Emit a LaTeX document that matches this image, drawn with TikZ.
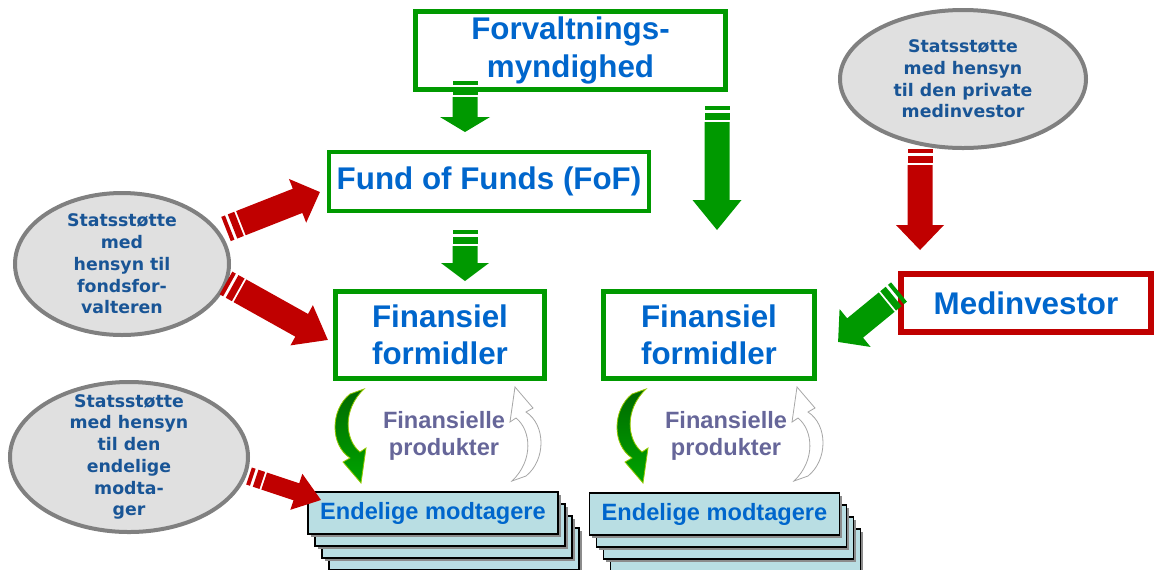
\documentclass[tikz,border=0pt]{standalone}
\usepackage{fontspec}
\setmainfont{Liberation Sans}
\newfontfamily\ellfont{DejaVu Sans}
\usetikzlibrary{shapes.geometric}
\usetikzlibrary{shadows}
\usetikzlibrary{calc}

\definecolor{boxgreen}{RGB}{0,153,0}
\definecolor{boxred}{RGB}{192,0,0}
\definecolor{boxblue}{RGB}{0,102,204}
\definecolor{elltext}{RGB}{25,85,150}
\definecolor{ellfill}{RGB}{224,224,224}
\definecolor{ellgray}{RGB}{128,128,128}
\definecolor{prodtext}{RGB}{102,102,153}
\definecolor{endfill}{RGB}{185,222,227}
\definecolor{curldark}{RGB}{0,105,0}
\definecolor{curllight}{RGB}{0,165,0}
\definecolor{curledge}{RGB}{150,200,0}

% #1 colour, #2 from, #3 to, #4 body width, #5 head width, #6 head length (px)
\newcommand{\stripedarrow}[6]{%
  \path (#2); \pgfgetlastxy{\sax}{\say}
  \path (#3); \pgfgetlastxy{\sbx}{\sby}
  \pgfmathsetmacro\sang{atan2((\sby)-(\say),(\sbx)-(\sax))}
  \pgfmathsetmacro\slen{veclen((\sbx)-(\sax),(\sby)-(\say))}
  \pgfmathsetmacro\sbw{#4*0.375}
  \pgfmathsetmacro\shw{#5*0.375}
  \pgfmathsetmacro\shl{\slen-#6*0.75}
  \begin{scope}[shift={(#2)},rotate=\sang]
    \fill[#1] (0pt,-\sbw pt) rectangle (3pt,\sbw pt);
    \fill[#1] (5.25pt,-\sbw pt) rectangle (10.5pt,\sbw pt);
    \fill[#1] (12pt,-\sbw pt) -- (\shl pt,-\sbw pt) -- (\shl pt,-\shw pt) -- (\slen pt,0pt)
      -- (\shl pt,\shw pt) -- (\shl pt,\sbw pt) -- (12pt,\sbw pt) -- cycle;
  \end{scope}
}

\newcommand{\curl}[1]{%
  \path[#1] (364,389) -- (350,394) .. controls (330,410) and (330,445) .. (350,458)
    -- (343,462) -- (361,483) -- (366,448) -- (360,452)
    .. controls (345,440) and (342,410) .. (364,389) -- cycle;
}

\begin{document}
\begin{tikzpicture}
  [x=0.75pt,y=-0.75pt,
  box/.style={draw=boxgreen,line width=3.5pt,fill=white,text=boxblue,align=center,inner sep=0pt,
    font=\bfseries\fontsize{23.5}{28}\selectfont},
  ell/.style={ellipse,draw=ellgray,line width=3pt,fill=ellfill,inner sep=0pt},
  elltxt/.style={text=elltext,align=center,inner sep=0pt,font=\ellfont\bfseries\fontsize{13}{16.3}\selectfont},
  endbox/.style={draw=black,line width=1pt,fill=endfill,minimum width=187.5pt,minimum height=31.5pt,
    drop shadow={shadow xshift=2pt,shadow yshift=-2pt,fill=black!45,opacity=1}},
  endtxt/.style={text=boxblue,font=\bfseries\fontsize{17.7}{20}\selectfont},
  prod/.style={text=prodtext,align=center,font=\bfseries\fontsize{17.7}{20.5}\selectfont},
  greencurl/.style={top color=curldark,bottom color=curllight,draw=curledge,line width=0.6pt},
  whitecurl/.style={fill=white,draw=gray!70,line width=0.6pt}]
  \useasboundingbox (0,0) rectangle (1155,569);

  \node[ell,minimum width=184.5pt,minimum height=103.5pt,
    label={[elltxt]center:{Statsstøtte\\med hensyn\\til den private\\medinvestor}}] (ell1) at (963,79) {};
  \node[ell,minimum width=160.5pt,minimum height=106.5pt,
    label={[elltxt]center:{Statsstøtte\\med\\hensyn til\\fondsfor-\\valteren}}] (ell2) at (122,264) {};
  \node[ell,minimum width=178.5pt,minimum height=112.5pt,
    label={[elltxt]center:{Statsstøtte\\med hensyn\\til den\\endelige\\modta-\\ger}}] (ell3) at (129,457) {};

  \node[box,minimum width=232.5pt,minimum height=58.5pt] (forv) at (570.5,50.5) {Forvaltnings-\\myndighed};
  \node[box,minimum width=240pt,minimum height=44.25pt] (fof) at (489,181.5) {Fund of Funds (FoF)};
  \node[box,minimum width=156.75pt,minimum height=65.25pt] (fin1) at (440,335) {Finansiel\\formidler};
  \node[box,minimum width=158.25pt,minimum height=65.25pt] (fin2) at (709,335) {Finansiel\\formidler};
  \node[box,draw=boxred,line width=4.5pt,minimum width=187.5pt,minimum height=43.5pt] (med) at (1026,303) {Medinvestor};

  \foreach \k in {3,2,1} {
    \node[endbox] (end1\k) at (433+7*\k,513+12*\k) {};
    \node[endbox] (end2\k) at (714.5+7*\k,514+12*\k) {};
  }
  \node[endbox,endtxt] (end1) at (433,513) {Endelige modtagere};
  \node[endbox,endtxt] (end2) at (714.5,514) {Endelige modtagere};

  \curl{greencurl}
  \curl{whitecurl,rotate around={180:(438,435)}}
  \begin{scope}[shift={(282,0)}]
    \curl{greencurl}
    \curl{whitecurl,rotate around={180:(438,435)}}
  \end{scope}
  \node[prod] (prod1) at (444,436) {Finansielle\\produkter};
  \node[prod] (prod2) at (726,436) {Finansielle\\produkter};

  \coordinate (forv-s) at (465,81);   \coordinate (fof-n) at (465,132);
  \coordinate (fof-s) at (465,230);   \coordinate (fin1-n) at (465,281);
  \coordinate (forv-se) at (717,106); \coordinate (fin2-n) at (717,230);
  \coordinate (ell1-s) at (920,149);  \coordinate (med-n) at (920,250);
  \coordinate (ell2-ne) at (226,229); \coordinate (fof-w) at (320,192);
  \coordinate (ell2-se) at (226,283); \coordinate (fin1-w) at (328,340);
  \coordinate (ell3-e) at (249,476);  \coordinate (end1-nw) at (321,500);
  \coordinate (med-w) at (899,292);   \coordinate (fin2-e) at (838,342);

  \stripedarrow{boxgreen}{forv-s}{fof-n}{25}{50}{15}
  \stripedarrow{boxgreen}{fof-s}{fin1-n}{25}{48}{18}
  \stripedarrow{boxgreen}{forv-se}{fin2-n}{25}{49}{30}
  \stripedarrow{boxred}{ell1-s}{med-n}{25}{48}{25}
  \stripedarrow{boxred}{ell2-ne}{fof-w}{26}{47}{24}
  \stripedarrow{boxred}{ell2-se}{fin1-w}{26}{46}{30}
  \stripedarrow{boxred}{ell3-e}{end1-nw}{18}{38}{26}
  \stripedarrow{boxgreen}{med-w}{fin2-e}{25}{49}{22}
\end{tikzpicture}
\end{document}
